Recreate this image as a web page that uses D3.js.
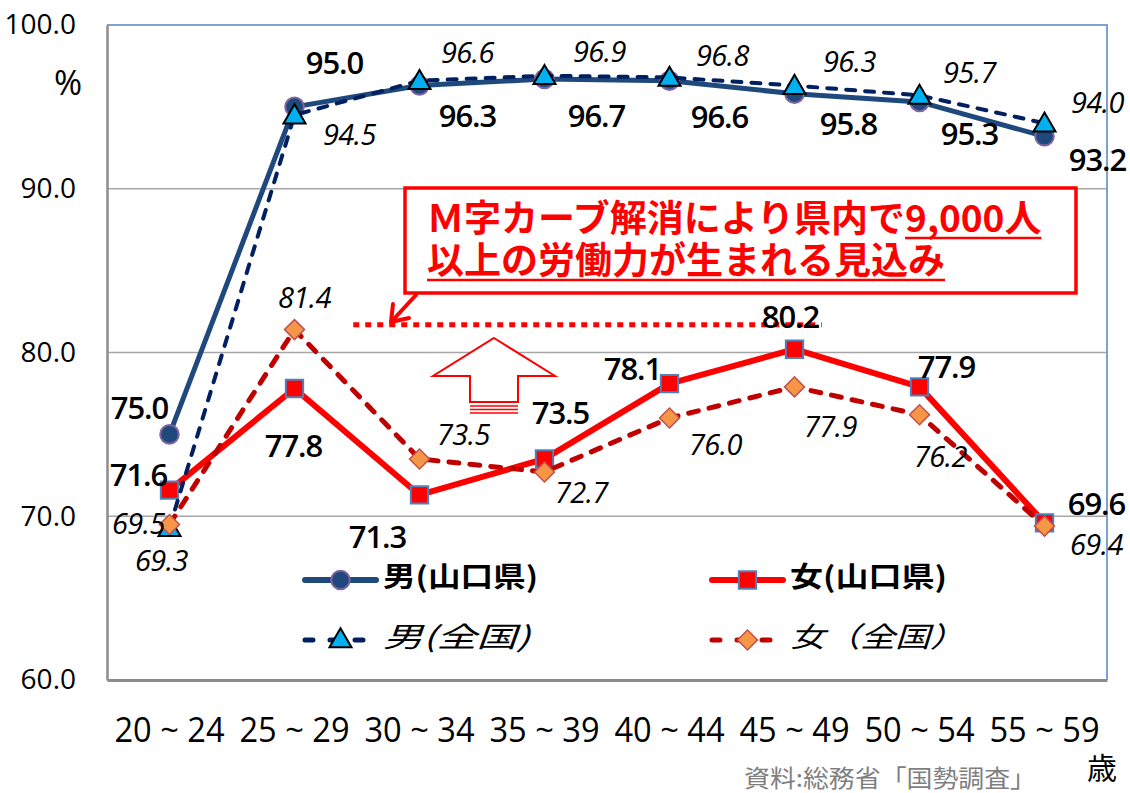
<!DOCTYPE html>
<html>
<head>
<meta charset="utf-8">
<script src="https://cdn.jsdelivr.net/npm/d3@7"></script>
<style>
  html, body { margin: 0; padding: 0; background: #fff; }
  svg { display: block; }
  text { font-family: "Open Sans", "Noto Sans CJK JP", sans-serif; }
</style>
</head>
<body>
<svg id="chart" width="1130" height="793"></svg>
<script>
// Labour force participation rate by age group (%)
const categories = ["20 ~ 24", "25 ~ 29", "30 ~ 34", "35 ~ 39", "40 ~ 44", "45 ~ 49", "50 ~ 54", "55 ~ 59"];
const maleYamaguchi   = [75.0, 95.0, 96.3, 96.7, 96.6, 95.8, 95.3, 93.2];
const maleNational    = [69.3, 94.5, 96.6, 96.9, 96.8, 96.3, 95.7, 94.0];
const femaleYamaguchi = [71.6, 77.8, 71.3, 73.5, 78.1, 80.2, 77.9, 69.6];
const femaleNational  = [69.5, 81.4, 73.5, 72.7, 76.0, 77.9, 76.2, 69.4];
const yTicks = [60, 70, 80, 90, 100];
const gridTicks = [70, 80, 90];
const targetLevel = 81.7;           // level of the dotted "goal" line
const targetSpan = [1.97, 5.72];    // in band units along the x axis
const seriesNames = ["男(山口県)", "女(山口県)", "男(全国)", "女（全国）"];
const calloutLines = [["Ｍ字カーブ解消により県内で", "9,000人"], ["", "以上の労働力が生まれる見込み"]];
const sourceNote = "資料:総務省「国勢調査」";

// label placement (px offsets from each point)
const offMY = [[-30,-26],[40,-44],[48,31],[52,37],[50,36],[54,30],[50,32],[53,24]];
const offMN = [[-8,33],[55,20],[48,-28],[55,-24],[53,-22],[55,-24],[50,-23],[53,-20]];
const offFY = [[-31,-15],[-1,58],[-42,42],[16,-46],[-37,-14],[-4,-32],[27,-20],[52,-19]];
const offFN = [[-31,-1],[10,-32],[44,-24],[37,21],[46,27],[36,40],[21,42],[52,19]];

const svg = d3.select("#chart");
const plotLeft = 107, plotRight = 1107, plotTop = 25, plotBottom = 680;

const x = d3.scaleBand().domain(categories).range([plotLeft, plotRight]);
const y = d3.scaleLinear().domain([60, 100]).range([plotBottom, plotTop]);
const cx = c => x(c) + x.bandwidth() / 2;

// gridlines
svg.append("g").selectAll("line").data(gridTicks).join("line")
  .attr("x1", plotLeft).attr("x2", plotRight)
  .attr("y1", d => y(d)).attr("y2", d => y(d))
  .attr("stroke", "#a6a6a6").attr("stroke-width", 1.5);

// plot frame (top / right)
svg.append("path")
  .attr("d", `M${plotLeft},${y(100)}H${plotRight}V${plotBottom}`)
  .attr("fill", "none").attr("stroke", "#7ea0d2").attr("stroke-width", 2);

// y axis
const yAxis = svg.append("g").attr("transform", `translate(${plotLeft},0)`)
  .call(d3.axisLeft(y).tickValues(yTicks).tickFormat(d3.format(".1f")).tickSize(0).tickPadding(31));
yAxis.select(".domain").attr("stroke", "#8c8c8c").attr("stroke-width", 2.5);
yAxis.selectAll("text").attr("font-size", 28).attr("fill", "#000")
  .style("font-family", "'Open Sans', sans-serif");

// x axis
const xAxis = svg.append("g").attr("transform", `translate(0,${plotBottom})`)
  .call(d3.axisBottom(x).tickSize(0).tickPadding(0));
xAxis.select(".domain").attr("stroke", "#8c8c8c").attr("stroke-width", 3);
xAxis.selectAll("text").attr("font-size", 35).attr("fill", "#000")
  .attr("y", 50).attr("dy", "0.35em")
  .attr("textLength", 110).attr("lengthAdjust", "spacingAndGlyphs")
  .style("font-family", "'Open Sans', sans-serif");

svg.append("text").attr("x", 68).attr("y", 83).attr("dy", "0.35em")
  .attr("text-anchor", "middle").attr("font-size", 34).text("%");
svg.append("text").attr("x", 1102).attr("y", 768).attr("dy", "0.35em")
  .attr("text-anchor", "middle").attr("font-size", 30).style("font-family", "'Noto Sans CJK JP'").text("歳");
svg.append("text").attr("x", 744).attr("y", 779).attr("dy", "0.35em")
  .attr("font-size", 24).attr("fill", "#7f7f7f")
  .attr("textLength", 292).attr("lengthAdjust", "spacingAndGlyphs")
  .style("font-family", "'Noto Sans CJK JP'").text(sourceNote);

// dotted target line
svg.append("line")
  .attr("x1", plotLeft + x.step() * targetSpan[0]).attr("x2", plotLeft + x.step() * targetSpan[1])
  .attr("y1", y(targetLevel)).attr("y2", y(targetLevel))
  .attr("stroke", "#ff0000").attr("stroke-width", 5).attr("stroke-dasharray", "6,6");

// hollow up arrow
const ax = 494, ay = 338;
svg.append("path")
  .attr("d", `M${ax},${ay}L${ax+61},${ay+38}H${ax+24}V${ay+64}H${ax-24}V${ay+38}H${ax-61}Z`)
  .attr("fill", "#fff").attr("stroke", "#ff0000").attr("stroke-width", 2);
svg.append("g").selectAll("line").data([68, 71.5, 75]).join("line")
  .attr("x1", ax - 24).attr("x2", ax + 24)
  .attr("y1", d => ay + d).attr("y2", d => ay + d)
  .attr("stroke", "#ff0000").attr("stroke-width", 1.5);

// callout box
svg.append("rect").attr("x", 405).attr("y", 188).attr("width", 671).attr("height", 105)
  .attr("fill", "#fff").attr("stroke", "#ff0000").attr("stroke-width", 3.5);
const callout = svg.append("g");
calloutLines.forEach((parts, i) => {
  const t = callout.append("text").attr("x", 427).attr("y", 219 + i * 42).attr("dy", "0.35em")
    .attr("font-size", 37).attr("font-weight", "bold").attr("fill", "#ff0000")
    .style("font-family", "'Noto Sans CJK JP'");
  t.append("tspan").text(parts[0]);
  t.append("tspan").text(parts[1]);
  const n0 = parts[0].length, n1 = parts[1].length;
  const node = t.node();
  const x0 = node.getStartPositionOfChar(n0).x;
  const x1 = node.getEndPositionOfChar(n0 + n1 - 1).x;
  callout.append("line").attr("x1", x0).attr("x2", x1)
    .attr("y1", 219 + i * 42 + 19).attr("y2", 219 + i * 42 + 19)
    .attr("stroke", "#ff0000").attr("stroke-width", 2.5);
});
// pointer from the callout to the dotted line
svg.append("path").attr("d", "M416,295L392,321")
  .attr("stroke", "#ff0000").attr("stroke-width", 4).attr("fill", "none").attr("stroke-linecap", "round");
svg.append("path").attr("d", "M393,304L391,322L409,318")
  .attr("stroke", "#ff0000").attr("stroke-width", 4).attr("fill", "none")
  .attr("stroke-linecap", "round").attr("stroke-linejoin", "round");

// series
const circle = d3.symbol().type(d3.symbolCircle).size(270);
const square = d3.symbol().type(d3.symbolSquare).size(300);
const diamond = d3.symbol().type(d3.symbolSquare).size(200);
const triangle = d3.symbol().type(d3.symbolTriangle).size(210);

const series = [
  { values: maleYamaguchi, color: "#1f497d", width: 5, dash: null, sym: circle, rot: 0,
    fill: "#1f497d", stroke: "#8064a2", sw: 2, off: offMY, italic: false },
  { values: femaleYamaguchi, color: "#ff0000", width: 6, dash: null, sym: square, rot: 0,
    fill: "#ff0000", stroke: "#4f81bd", sw: 2, off: offFY, italic: false },
  { values: maleNational, color: "#002060", width: 4, dash: "9,10", sym: triangle, rot: 0,
    fill: "#00b0f0", stroke: "#000", sw: 2, off: offMN, italic: true },
  { values: femaleNational, color: "#c00000", width: 5, dash: "10,11", sym: diamond, rot: 45,
    fill: "#f79646", stroke: "#c0504d", sw: 1.5, off: offFN, italic: true }
];

const line = d3.line().x((d, i) => cx(categories[i])).y(d => y(d));

series.forEach(s => {
  const g = svg.append("g");
  g.append("path").datum(s.values).attr("d", line)
    .attr("fill", "none").attr("stroke", s.color).attr("stroke-width", s.width)
    .attr("stroke-linecap", s.dash ? "round" : "butt").attr("stroke-linejoin", "round")
    .attr("stroke-dasharray", s.dash);
  g.selectAll(".mk").data(s.values).join("path").attr("class", "mk")
    .attr("d", s.sym)
    .attr("transform", (d, i) => `translate(${cx(categories[i])},${y(d) + (s.sym === triangle ? 2 : 0)}) rotate(${s.rot})`)
    .attr("fill", s.fill).attr("stroke", s.stroke).attr("stroke-width", s.sw);
});

// value labels
series.forEach(s => {
  svg.append("g").selectAll("text").data(s.values).join("text")
    .attr("x", (d, i) => cx(categories[i]) + s.off[i][0])
    .attr("y", (d, i) => y(d) + s.off[i][1])
    .attr("dy", "0.35em").attr("text-anchor", "middle")
    .attr("font-size", s.italic ? 29 : 31)
    .attr("font-style", s.italic ? "italic" : "normal")
    .attr("font-weight", s.italic ? 400 : 600)
    .attr("letter-spacing", s.italic ? -0.5 : -1)
    .attr("fill", "#000")
    .text(d => d3.format(".1f")(d));
});

// legend
const legendPos = [[305, 580], [712, 580], [305, 640], [712, 640]];
const textLen = [155, 157, 147, 175];
series.forEach((s, k) => {
  const [lx, ly] = legendPos[k];
  const g = svg.append("g").attr("transform", `translate(${lx},${ly})`);
  g.append("line").attr("x1", 0).attr("x2", 71)
    .attr("stroke", s.color).attr("stroke-width", s.dash ? 5 : 6)
    .attr("stroke-linecap", "round").attr("stroke-dasharray", s.dash ? "8,17" : null);
  g.append("path").attr("d", s.sym)
    .attr("transform", `translate(35.5,${s.sym === triangle ? 1 : 0}) rotate(${s.rot})`)
    .attr("fill", s.fill).attr("stroke", s.stroke).attr("stroke-width", s.sw);
  g.append("text").attr("x", 78).attr("y", -3).attr("dy", "0.35em")
    .attr("font-size", 28).attr("font-weight", s.italic ? 400 : "bold")
    .attr("font-style", s.italic ? "italic" : "normal")
    .attr("textLength", textLen[k]).attr("lengthAdjust", "spacingAndGlyphs")
    .style("font-family", "'Noto Sans CJK JP'")
    .text(seriesNames[k]);
});
</script>
</body>
</html>
